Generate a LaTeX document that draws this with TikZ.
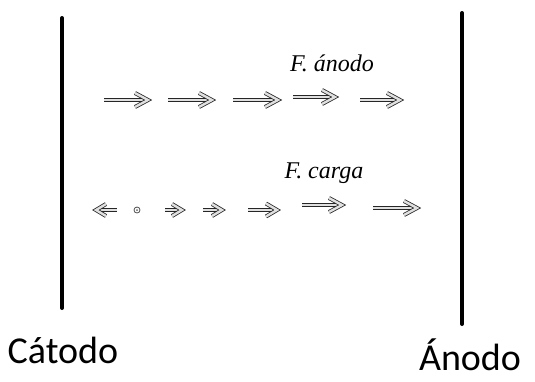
\documentclass[tikz,border=0pt]{standalone}
\usepackage{fontspec}
\setmainfont{Liberation Serif}
\newfontfamily\labelfont{Carlito}
\usetikzlibrary{calc}
\newcommand\darr[5]{% start, end, head length, head half-height, sign
  \draw[dbl] (#1) -- ($(#2)+(-#5*4,0)$);
  \draw[dbl,line join=miter] ($(#2)+(-#5*#3-#5*2,-#4)$) -- ($(#2)+(-#5*2,0)$) -- ($(#2)+(-#5*#3-#5*2,#4)$);
}
\begin{document}
\begin{tikzpicture}[x=1pt,y=-1pt,
  plate/.style={line width=4pt,line cap=round},
  dbl/.style={draw=black!85,line width=0.8pt,double=black!12,double distance=2.4pt},
  lbl/.style={font=\labelfont\fontsize{38}{40}\selectfont,inner sep=0pt},
  flbl/.style={font=\itshape\fontsize{24}{26}\selectfont,inner sep=0pt}]
\useasboundingbox (0,0) rectangle (535,381);
% plates
\coordinate (c1) at (62,18); \coordinate (c2) at (62,308);
\coordinate (a1) at (462,13); \coordinate (a2) at (462,324);
\draw[plate] (c1) -- (c2);
\draw[plate] (a1) -- (a2);
\node[lbl] (cat) at (63,350) {Cátodo};
\node[lbl] (ano) at (470,355) {Ánodo};
% top row
\node[flbl] (fa) at (332,63) {F. ánodo};
\foreach \xa/\xb/\y [count=\i] in {104/150/100,168/214/100,233/280/100,293/337/97,360/402/100}{
  \coordinate (t\i s) at (\xa,\y); \coordinate (t\i e) at (\xb,\y);
  \darr{t\i s}{t\i e}{13}{7}{1}
}
% bottom row
\node[flbl] (fc) at (324,173) {F. carga};
\coordinate (l1) at (117,210); \coordinate (l2) at (94,210);
\darr{l1}{l2}{10}{6}{-1}
\node[draw=black!70,circle,line width=0.8pt,minimum size=6pt,inner sep=0pt] (dot) at (137,210) {};
\fill[black!60] (dot.center) circle (1pt);
\foreach \xa/\xb/\y/\L/\H [count=\i] in {165/184/210/10/6,203/224/210/10/6,248/279/210/11/6.5,302/344/205/13/7,373/419/208/13/7}{
  \coordinate (b\i s) at (\xa,\y); \coordinate (b\i e) at (\xb,\y);
  \darr{b\i s}{b\i e}{\L}{\H}{1}
}
\end{tikzpicture}
\end{document}
